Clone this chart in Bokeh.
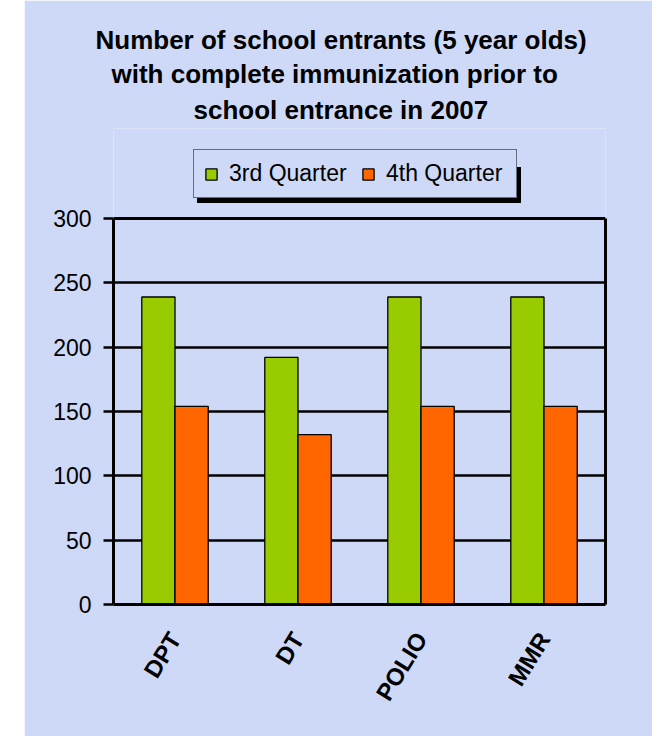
from bokeh.plotting import figure
from bokeh.models import (ColumnDataSource, Legend, LegendItem, Title,
                          FixedTicker, LinearAxis, Span, Spacer)
from bokeh.layouts import row
from bokeh.transform import dodge
from bokeh.embed import file_html
from bokeh.resources import INLINE

categories = ["DPT", "DT", "POLIO", "MMR"]
q3_values = [239, 192, 239, 239]
q4_values = [154, 132, 154, 154]
series_names = ["3rd Quarter", "4th Quarter"]
y_ticks = [0, 50, 100, 150, 200, 250, 300]
title_lines = ["Number of school entrants (5 year olds)",
               "with complete immunization prior to",
               "school entrance in 2007"]

PANEL = "#cdd9f6"
FONT = "'Liberation Sans', Arial, sans-serif"

W, H = 628, 736
MB_LEFT, MB_RIGHT, MB_TOP, MB_BOTTOM = 89, 47, 128, 132
frame_h = H - MB_TOP - MB_BOTTOM
plot_h = 386  # pixel height of the 0..300 value area
y_max = max(y_ticks) * frame_h / plot_h

src = ColumnDataSource(dict(cat=categories, q3=q3_values, q4=q4_values))

p = figure(x_range=categories, y_range=(0, y_max), width=W, height=H,
           output_backend="svg", toolbar_location=None,
           min_border_left=MB_LEFT, min_border_right=MB_RIGHT,
           min_border_top=MB_TOP, min_border_bottom=MB_BOTTOM)
p.x_range.range_padding = 0

def style_title(t, text, offset, standoff):
    t.text = text
    t.align = "left"
    t.offset = offset
    t.text_font = FONT
    t.text_font_style = "bold"
    t.text_font_size = "26px"
    t.text_color = "black"
    t.standoff = standoff
    return t

# p.title is the outermost line; added titles stack outward from the frame
style_title(p.title, title_lines[0], -18, 1)
p.add_layout(style_title(Title(), title_lines[2], 80, 7), "above")
p.add_layout(style_title(Title(), title_lines[1], -2, 2), "above")

p.background_fill_color = PANEL
p.border_fill_color = PANEL
p.outline_line_color = None

g = p.vbar(x=dodge("cat", -0.135, range=p.x_range), top="q3", width=0.27,
           source=src, fill_color="#99CC00", line_color="black", line_width=1.3)
o = p.vbar(x=dodge("cat", 0.135, range=p.x_range), top="q4", width=0.27,
           source=src, fill_color="#FF6600", line_color="black", line_width=1.3)

# grid
p.xgrid.grid_line_color = None
p.ygrid.grid_line_color = "black"
p.ygrid.grid_line_width = 2.5
p.yaxis.ticker = FixedTicker(ticks=y_ticks)
p.ygrid.ticker = FixedTicker(ticks=y_ticks[:-1])
p.ygrid.level = "underlay"

# axes
for ax in (p.xaxis, p.yaxis):
    ax.axis_line_color = "black"
    ax.axis_line_width = 3
    ax.minor_tick_line_color = None
p.yaxis.bounds = (0, max(y_ticks))
p.yaxis.major_tick_line_width = 2.5
p.yaxis.major_tick_out = 10
p.yaxis.major_tick_in = 0
p.yaxis.major_label_standoff = 12
p.yaxis.major_label_text_font = FONT
p.yaxis.major_label_text_font_size = "23px"
p.yaxis.major_label_text_color = "black"

p.xaxis.major_tick_line_color = None
p.xaxis.major_label_orientation = 1.02
p.xaxis.major_label_text_font = FONT
p.xaxis.major_label_text_font_style = "bold"
p.xaxis.major_label_text_font_size = "24px"
p.xaxis.major_label_text_color = "black"
p.xaxis.major_label_standoff = 24

# right border of the plot area, as an unlabelled axis
rax = LinearAxis(bounds=(0, max(y_ticks)), ticker=FixedTicker(ticks=y_ticks),
                 axis_line_color="black", axis_line_width=3,
                 major_tick_line_color=None, minor_tick_line_color=None,
                 major_label_text_alpha=0, major_label_text_font_size="1px")
p.add_layout(rax, "right")

# top border at 300
p.add_layout(Span(location=max(y_ticks), dimension="width",
                  line_color="black", line_width=3))

def make_legend(loc, shadow):
    labels = [" ", " "] if shadow else series_names
    lg = Legend(items=[LegendItem(label=labels[0], renderers=[g]),
                       LegendItem(label=labels[1], renderers=[o])],
                orientation="horizontal", location=loc,
                label_text_font=FONT, label_text_font_size="23px",
                label_text_color="black",
                glyph_width=14, glyph_height=14, label_standoff=11,
                label_width=120,
                spacing=12, padding=10, margin=0,
                border_line_color="black", border_line_width=1.5,
                background_fill_color="black" if shadow else PANEL,
                background_fill_alpha=1.0)
    return lg

p.add_layout(make_legend((84, 401), True), "center")
p.add_layout(make_legend((80, 406), False), "center")

layout = row(Spacer(width=24, height=H), p)
open("out.html", "w").write(file_html(layout, INLINE))
